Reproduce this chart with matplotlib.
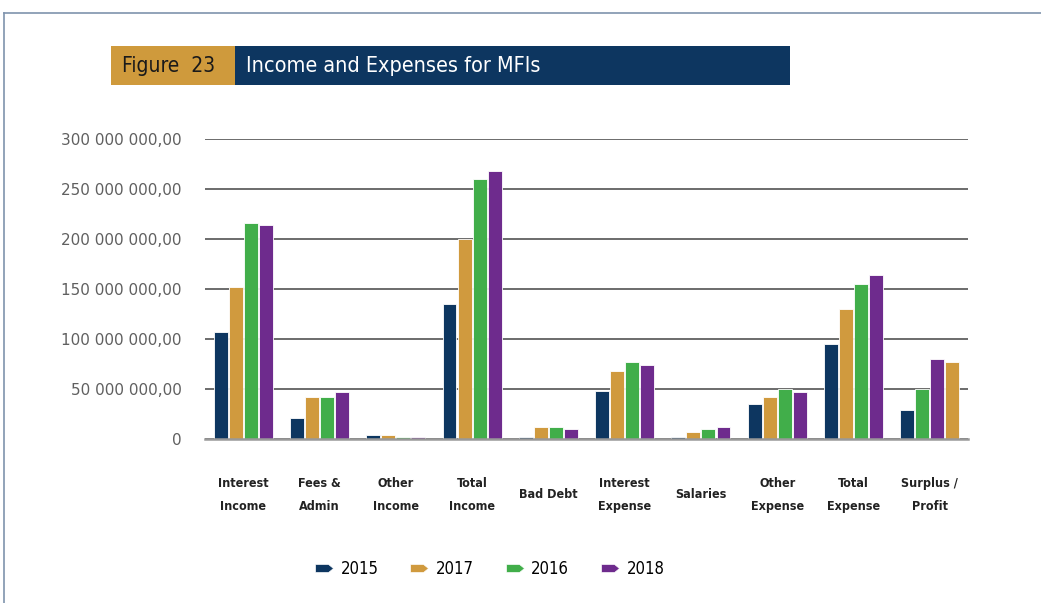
import matplotlib
matplotlib.use("Agg")
import matplotlib.pyplot as plt
from matplotlib.patches import Rectangle
from matplotlib.lines import Line2D
from matplotlib.path import Path
import numpy as np

categories = ["Interest\nIncome", "Fees &\nAdmin", "Other\nIncome", "Total\nIncome", "Bad Debt",
              "Interest\nExpense", "Salaries", "Other\nExpense", "Total\nExpense", "Surplus /\nProfit"]
series_names = ["2015", "2017", "2016", "2018"]
values_2015 = [107e6, 21e6, 4.3e6, 135e6, 1.7e6, 48e6, 1.7e6, 35e6, 95e6, 29e6]
values_2017 = [152e6, 42e6, 4.0e6, 200e6, 12.3e6, 68e6, 6.7e6, 42e6, 130e6, 77e6]
values_2016 = [216e6, 42e6, 2.3e6, 260e6, 12.3e6, 77e6, 10e6, 50e6, 155e6, 50e6]
values_2018 = [214e6, 47e6, 2.3e6, 268e6, 9.7e6, 74e6, 12e6, 47e6, 164e6, 80e6]
# slot (position inside the group) of each series per category; last group is ordered differently
slot_order = {"2015": [0]*9 + [0], "2017": [1]*9 + [3], "2016": [2]*9 + [1], "2018": [3]*9 + [2]}
yticks = [0, 50e6, 100e6, 150e6, 200e6, 250e6, 300e6]
ytick_labels = ["0", "50 000 000,00", "100 000 000,00", "150 000 000,00",
                "200 000 000,00", "250 000 000,00", "300 000 000,00"]

colors = {"2015": "#0d3660", "2017": "#d09a3e", "2016": "#41ae4a", "2018": "#6e2b8d"}
series_vals = {"2015": values_2015, "2017": values_2017, "2016": values_2016, "2018": values_2018}

fig = plt.figure(figsize=(10.41, 6.03), dpi=100)
ax = fig.add_axes([205/1041, 1-439/603, 763/1041, 300/603])

x = np.arange(len(categories))
slot_w = 0.197
for name in series_names:
    slots = np.array(slot_order[name])
    pos = x + (slots - 1.5) * slot_w
    ax.bar(pos, series_vals[name], width=slot_w*0.93, color=colors[name],
           edgecolor="white", linewidth=0.6, zorder=3)

ax.set_xlim(-0.5, len(categories) - 0.5)
ax.set_ylim(0, 300e6)
ax.set_yticks(yticks)
ax.set_yticklabels(ytick_labels, fontsize=11, color="#606060", family="DejaVu Sans")
ax.tick_params(axis="y", length=0, pad=17)
ax.grid(axis="y", color="#444444", linewidth=1.1, zorder=0)
for s in ["left", "right", "top"]:
    ax.spines[s].set_visible(False)
ax.spines["bottom"].set_color("#999999")
ax.spines["bottom"].set_linewidth(1.8)
ax.spines["bottom"].set_zorder(4)

ax.set_xticks(x)
ax.set_xticklabels(categories, fontsize=9, fontweight="bold", family="DejaVu Sans",
                   fontstretch="condensed", color="#222222", linespacing=2.0)
ax.tick_params(axis="x", length=0, pad=40)
for lab in ax.get_xticklabels():
    lab.set_va("center")

# pencil-shaped legend marker
verts = [(-1, -0.45), (0.45, -0.45), (1, 0), (0.45, 0.45), (-1, 0.45), (-1, -0.45)]
pencil = Path(verts, [Path.MOVETO] + [Path.LINETO]*4 + [Path.CLOSEPOLY])
handles = [Line2D([], [], marker=pencil, markersize=13, linestyle="none",
                  markerfacecolor=colors[n], markeredgecolor="white", markeredgewidth=0.5)
           for n in series_names]
fig.legend(handles, series_names, loc="center", bbox_to_anchor=(490/1041, 1-569/603),
           ncol=4, frameon=False, handlelength=1.0, handletextpad=0.5,
           columnspacing=1.95, prop={"family": "DejaVu Sans", "stretch": "condensed", "size": 12})

# title banner
fig.add_artist(Rectangle((111/1041, 1-85/603), 124/1041, 39/603, transform=fig.transFigure,
                         facecolor="#cf9a3c", edgecolor="none"))
fig.add_artist(Rectangle((235/1041, 1-85/603), 555/1041, 39/603, transform=fig.transFigure,
                         facecolor="#0d3660", edgecolor="none"))
fig.text(122/1041, 1-66/603, "Figure  23", fontsize=15, color="#1a1a1a", va="center",
         family="DejaVu Sans", fontstretch="condensed")
fig.text(246/1041, 1-66/603, "Income and Expenses for MFIs", fontsize=15.5, color="white",
         va="center", family="DejaVu Sans", fontstretch="condensed")

# page frame lines
fig.add_artist(Line2D([4/1041, 4/1041], [0, 1-13/603], transform=fig.transFigure,
                      color="#7f93ad", linewidth=1.2))
fig.add_artist(Line2D([4/1041, 1], [1-13/603, 1-13/603], transform=fig.transFigure,
                      color="#7f93ad", linewidth=1.2))

fig.savefig("out.png", dpi=100)
